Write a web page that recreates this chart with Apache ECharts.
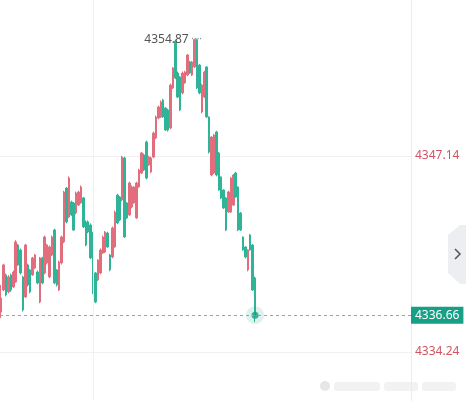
<!DOCTYPE html>
<html>
<head>
<meta charset="utf-8">
<script src="https://cdn.jsdelivr.net/npm/echarts@6/dist/echarts.min.js"></script>
<style>
  html, body { margin: 0; padding: 0; background: #fff; }
  #chart { width: 466px; height: 401px; }
</style>
</head>
<body>
<div id="chart"></div>
<script>
// K线数据: [open, close, low, high] 分开存放
const opens = [
  4336.87, 4338.32, 4339.31, 4338.19, 4339.31, 4338.52, 4338.85, 4341.28, 4340.95, 4339.18,
  4337.86, 4339.97, 4339.64, 4339.31, 4339.77, 4339.50, 4337.53, 4340.43, 4339.44, 4340.10,
  4339.18, 4340.62, 4342.27, 4339.64, 4338.32, 4340.10, 4341.48, 4345.03, 4343.12, 4344.11,
  4344.05, 4343.39, 4343.91, 4344.05, 4344.38, 4342.80, 4342.80, 4342.60, 4342.07, 4339.44,
  4338.98, 4339.44, 4340.75, 4340.82, 4342.07, 4340.62, 4340.49, 4341.15, 4344.57, 4344.44,
  4344.24, 4347.01, 4344.05, 4343.26, 4343.78, 4344.05, 4343.06, 4345.10, 4346.02, 4347.21,
  4348.06, 4346.55, 4346.09, 4347.07, 4348.33, 4349.64, 4349.71, 4350.83, 4350.30, 4350.17,
  4348.98, 4351.62, 4354.70, 4352.60, 4352.34, 4351.29, 4351.95, 4352.47, 4353.33, 4352.47,
  4353.00, 4354.80, 4353.13, 4350.04, 4351.02, 4353.00, 4349.71, 4345.89, 4346.02, 4348.72,
  4347.34, 4345.76, 4344.90, 4344.38, 4343.45, 4343.45, 4343.91, 4346.02, 4345.10, 4343.39,
  4341.81, 4341.15, 4339.64, 4341.94, 4341.28, 4339.11
];
const closes = [
  4337.79, 4339.97, 4337.99, 4339.18, 4338.32, 4339.50, 4341.48, 4339.97, 4339.44, 4337.00,
  4341.28, 4338.65, 4338.19, 4340.43, 4340.62, 4338.78, 4340.43, 4338.78, 4341.81, 4341.28,
  4341.15, 4341.81, 4338.78, 4338.65, 4340.16, 4341.81, 4344.77, 4342.80, 4345.69, 4343.26,
  4342.27, 4344.70, 4344.77, 4345.10, 4342.47, 4341.28, 4342.14, 4340.43, 4338.12, 4337.53,
  4340.29, 4340.95, 4341.81, 4342.14, 4341.15, 4339.64, 4342.40, 4343.45, 4342.73, 4342.93,
  4347.07, 4341.81, 4343.06, 4345.36, 4345.10, 4345.10, 4345.36, 4346.22, 4347.34, 4346.22,
  4345.69, 4347.07, 4347.01, 4348.65, 4349.71, 4350.37, 4350.70, 4349.71, 4348.85, 4348.85,
  4351.81, 4352.93, 4352.28, 4351.02, 4350.17, 4352.60, 4352.67, 4353.79, 4352.60, 4353.33,
  4354.80, 4351.62, 4351.29, 4351.81, 4352.67, 4349.71, 4347.40, 4348.39, 4348.52, 4345.89,
  4344.90, 4344.38, 4343.72, 4342.27, 4344.77, 4345.69, 4345.89, 4344.44, 4342.27, 4342.27,
  4340.95, 4340.49, 4340.95, 4340.95, 4338.32, 4336.66
];
const lows = [
  4336.48, 4338.25, 4337.90, 4338.10, 4338.20, 4338.45, 4338.80, 4339.90, 4339.35, 4336.90,
  4337.80, 4338.55, 4338.10, 4339.25, 4339.70, 4338.70, 4337.45, 4338.70, 4339.35, 4340.00,
  4339.10, 4340.55, 4338.70, 4338.55, 4338.25, 4340.00, 4341.40, 4342.70, 4343.05, 4343.20,
  4342.20, 4343.30, 4343.85, 4344.00, 4342.40, 4341.20, 4342.05, 4340.35, 4338.05, 4337.45,
  4338.90, 4339.35, 4340.70, 4340.75, 4341.10, 4339.55, 4340.40, 4341.10, 4342.65, 4342.85,
  4344.15, 4341.75, 4343.00, 4343.20, 4343.70, 4344.00, 4343.00, 4345.05, 4345.95, 4346.15,
  4345.60, 4346.50, 4346.00, 4347.00, 4348.25, 4349.55, 4349.65, 4349.65, 4348.80, 4348.75,
  4348.90, 4351.55, 4352.20, 4350.95, 4350.10, 4351.20, 4351.90, 4352.40, 4352.55, 4352.40,
  4352.95, 4351.55, 4351.20, 4349.95, 4350.95, 4349.65, 4347.30, 4345.80, 4345.95, 4345.80,
  4344.85, 4344.30, 4343.65, 4342.20, 4343.40, 4343.40, 4343.85, 4344.40, 4342.20, 4342.20,
  4340.90, 4340.40, 4339.55, 4340.90, 4338.25, 4336.21
];
const highs = [
  4338.65, 4340.05, 4339.40, 4339.30, 4339.40, 4339.60, 4341.60, 4341.35, 4341.05, 4339.25,
  4341.35, 4340.05, 4339.70, 4340.50, 4340.70, 4339.60, 4340.50, 4340.50, 4341.90, 4341.35,
  4341.25, 4341.90, 4342.35, 4339.70, 4340.25, 4341.90, 4344.85, 4345.10, 4345.80, 4344.20,
  4344.10, 4344.80, 4344.85, 4345.20, 4344.45, 4342.90, 4342.90, 4342.70, 4342.15, 4339.50,
  4340.35, 4341.05, 4341.90, 4342.20, 4342.15, 4340.70, 4342.50, 4343.55, 4344.65, 4344.50,
  4347.15, 4347.10, 4344.10, 4345.45, 4345.20, 4345.15, 4345.45, 4346.30, 4347.40, 4347.30,
  4348.15, 4347.15, 4347.10, 4348.75, 4349.80, 4350.45, 4350.80, 4350.90, 4350.35, 4350.25,
  4351.90, 4353.00, 4354.80, 4352.70, 4352.40, 4352.70, 4352.75, 4353.85, 4353.40, 4353.40,
  4354.85, 4354.87, 4353.20, 4351.90, 4352.75, 4353.05, 4349.75, 4348.45, 4348.60, 4348.80,
  4347.40, 4345.80, 4344.95, 4344.45, 4344.85, 4345.75, 4345.95, 4346.10, 4345.15, 4343.45,
  4341.85, 4341.20, 4341.00, 4342.00, 4341.35, 4339.20
];
// 右侧刻度
const yTicks = [4334.24, 4347.14];
const yMin = 4331.01;
const yMax = 4357.41;
// 时间槽位（右侧留空）
const slotCount = 170;
const slots = [];
for (let i = 0; i < slotCount; i++) slots.push(String(i));
const dayBreak = "38"; // 竖向分隔线位置

const upColor = "#e26d7d";
const downColor = "#2fb497";

const kData = opens.map((o, i) => [o, closes[i], lows[i], highs[i]]);
const lastIdx = closes.length - 1;
const lastPrice = closes[lastIdx];

const chart = echarts.init(document.getElementById("chart"));
chart.setOption({
  animation: false,
  textStyle: { fontFamily: "Noto Sans" },
  grid: { left: 0, right: 55, top: 0, bottom: 0 },
  xAxis: {
    type: "category",
    data: slots,
    boundaryGap: true,
    axisLine: { show: false },
    axisTick: { show: false },
    axisLabel: { show: false },
    splitLine: { show: false },
  },
  yAxis: {
    type: "value",
    position: "right",
    min: yMin,
    max: yMax,
    axisLine: { show: true, lineStyle: { color: "#ececec" } },
    axisTick: { show: false, customValues: yTicks },
    axisLabel: {
      customValues: yTicks,
      color: "#cf5563",
      fontSize: 12,
      margin: 4,
      formatter: (v) => v.toFixed(2),
    },
    splitLine: { show: true, lineStyle: { color: "#f1f1f1" } },
  },
  series: [
    {
      type: "candlestick",
      data: kData,
      barWidth: 2,
      itemStyle: {
        color: upColor,
        color0: downColor,
        borderColor: upColor,
        borderColor0: downColor,
        borderWidth: 1,
      },
      markPoint: {
        symbol: "circle",
        symbolSize: 2,
        itemStyle: { color: "rgba(0,0,0,0)" },
        data: [{ type: "max", valueDim: "highest" }],
        label: {
          show: true,
          position: "left",
          distance: 0,
          offset: [6, 1],
          formatter: (p) => "{v|" + p.value.toFixed(2) + "}{d| ····}",
          rich: {
            v: { color: "#555", fontSize: 12 },
            d: { color: "#999", fontSize: 10 },
          },
        },
      },
      markLine: {
        silent: true,
        symbol: ["none", "none"],
        lineStyle: { type: [3, 3], color: "#5cc2aa", width: 1 },
        label: {
          show: true,
          position: "end",
          distance: 0,
          formatter: (p) => p.value.toFixed(2),
          color: "#fff",
          fontSize: 12,
          backgroundColor: "#17a085",
          padding: [3, 4, 2, 4],
        },
        data: [{ yAxis: lastPrice }],
      },
    },
    {
      // 日分隔线
      type: "line",
      data: [],
      silent: true,
      markLine: {
        silent: true,
        symbol: ["none", "none"],
        lineStyle: { type: "solid", color: "#f1f1f1", width: 1 },
        label: { show: false },
        data: [{ xAxis: dayBreak }],
      },
    },
    {
      type: "scatter",
      silent: true,
      symbolSize: 18,
      data: [[lastIdx, lastPrice]],
      itemStyle: { color: "rgba(23,160,133,0.18)" },
    },
    {
      type: "scatter",
      silent: true,
      symbolSize: 7,
      data: [[lastIdx, lastPrice]],
      itemStyle: { color: "#17a085" },
    },
  ],
  graphic: [
    {
      type: "polygon",
      shape: {
        points: [[460, 225], [466, 225], [466, 284], [460, 284], [448, 273], [448, 235]],
      },
      style: { fill: "#eceef1" },
    },
    {
      type: "polyline",
      shape: { points: [[455, 249], [460, 254], [455, 259]] },
      style: { stroke: "#555", lineWidth: 1.5, fill: null },
    },
    // 水印（模糊）
    { type: "circle", shape: { cx: 325, cy: 386, r: 5 }, style: { fill: "#e6e6e6" } },
    { type: "rect", shape: { x: 334, y: 382, width: 46, height: 9, r: 3 }, style: { fill: "#f2f2f2" } },
    { type: "rect", shape: { x: 384, y: 382, width: 34, height: 9, r: 3 }, style: { fill: "#f2f2f2" } },
    { type: "rect", shape: { x: 422, y: 382, width: 34, height: 9, r: 3 }, style: { fill: "#f2f2f2" } },
  ],
});
</script>
</body>
</html>
